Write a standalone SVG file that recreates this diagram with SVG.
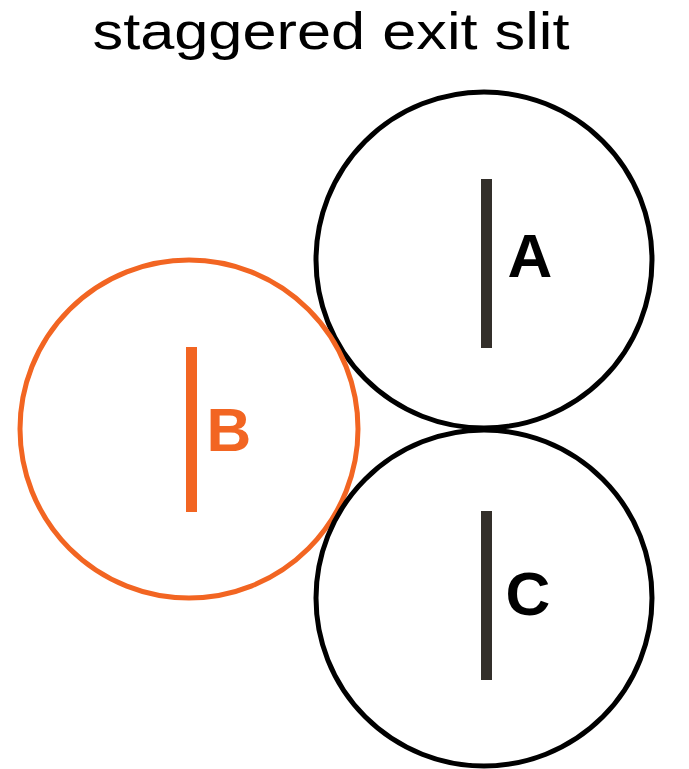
<svg xmlns="http://www.w3.org/2000/svg" width="689" height="769" viewBox="0 0 689 769">
<style>
.title{font-family:"Liberation Sans","DejaVu Sans",sans-serif;font-size:52px;fill:#000}
.lbl{font-family:"Liberation Sans","DejaVu Sans",sans-serif;font-size:62px;font-weight:bold}
.ring{fill:none;stroke-width:5}
.slit{stroke-width:11}
</style>
<rect width="689" height="769" fill="#fff"/>
<text class="title" x="331" y="49" text-anchor="middle" textLength="477" lengthAdjust="spacingAndGlyphs">staggered exit slit</text>
<g id="A">
<circle class="ring" cx="484" cy="260" r="168" stroke="#000"/>
<line class="slit" x1="486.5" y1="179" x2="486.5" y2="348" stroke="#332f2a"/>
<text class="lbl" x="530" y="277" text-anchor="middle" fill="#000">A</text>
</g>
<g id="B">
<circle class="ring" cx="189" cy="429" r="169" stroke="#f26522"/>
<line class="slit" x1="191.5" y1="347" x2="191.5" y2="512" stroke="#f26522"/>
<text class="lbl" x="229" y="451" text-anchor="middle" fill="#f26522">B</text>
</g>
<g id="C">
<circle class="ring" cx="484" cy="598" r="168" stroke="#000"/>
<line class="slit" x1="486.5" y1="511" x2="486.5" y2="680" stroke="#332f2a"/>
<text class="lbl" x="528" y="615" text-anchor="middle" fill="#000">C</text>
</g>
<g id="connectors"/>
</svg>
